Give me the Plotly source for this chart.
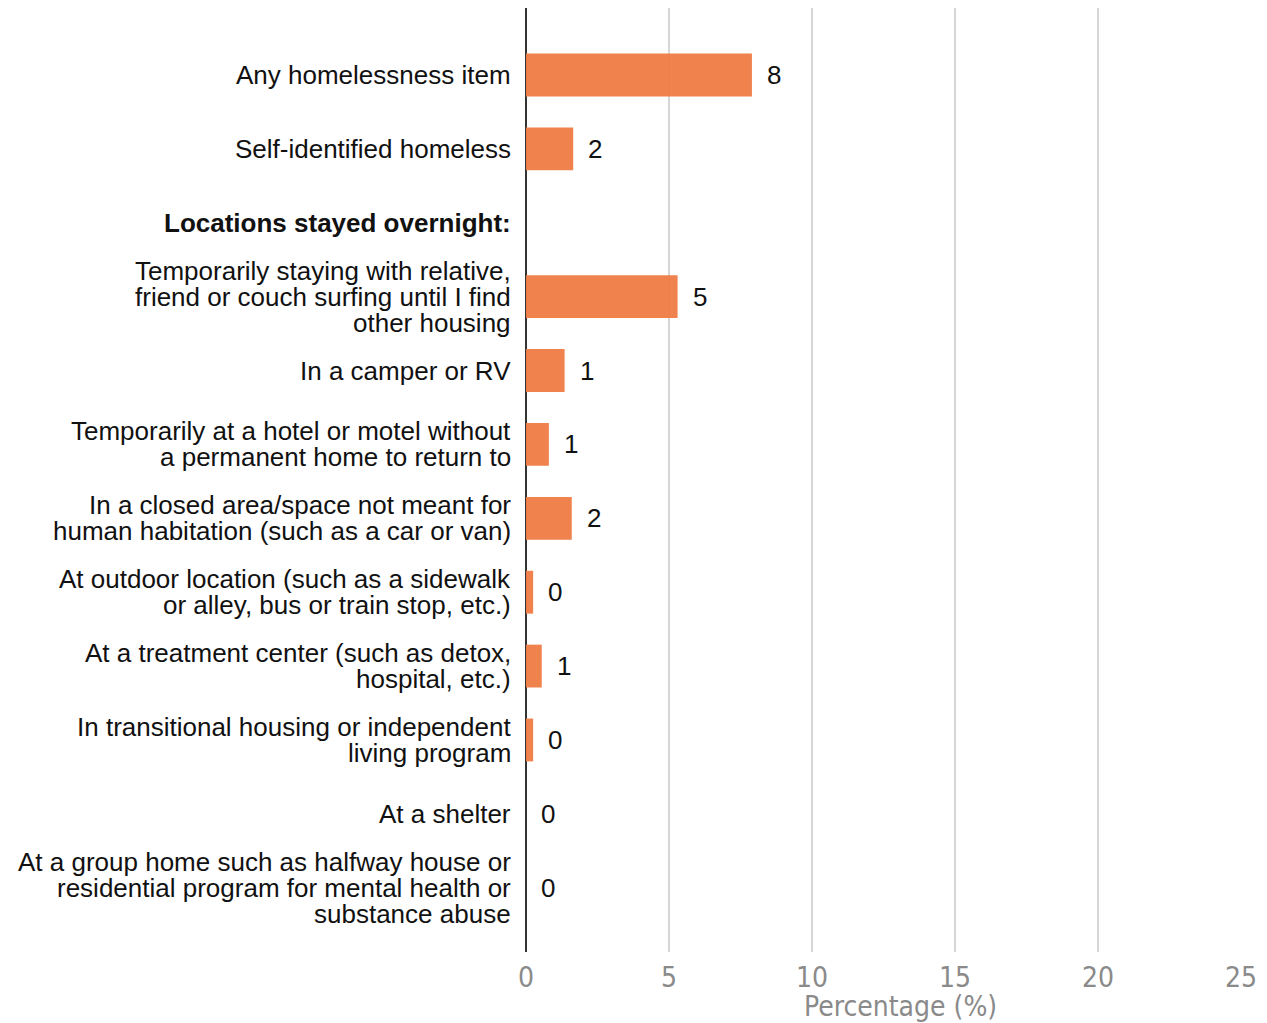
import plotly.graph_objects as go

categories = [
    "Any homelessness item",
    "Self-identified homeless",
    "<b>Locations stayed overnight:</b>",
    "Temporarily staying with relative,<br>friend or couch surfing until I find<br>other housing",
    "In a camper or RV",
    "Temporarily at a hotel or motel without<br>a permanent home to return to",
    "In a closed area/space not meant for<br>human habitation (such as a car or van)",
    "At outdoor location (such as a sidewalk<br>or alley, bus or train stop, etc.)",
    "At a treatment center (such as detox,<br>hospital, etc.)",
    "In transitional housing or independent<br>living program",
    "At a shelter",
    "At a group home such as halfway house or<br>residential program for mental health or<br>substance abuse",
]
values = [7.9, 1.65, None, 5.3, 1.35, 0.8, 1.6, 0.25, 0.55, 0.25, 0, 0]
value_labels = ["8", "2", "", "5", "1", "1", "2", "0", "1", "0", "0", "0"]
x_tickvals = [0, 5, 10, 15, 20, 25]

BAR_COLOR = "#F07C45"
LABEL_FONT = "Liberation Sans, Arial, sans-serif"
NARROW_FONT = "DejaVu Sans Condensed, Liberation Sans Narrow, Arial Narrow, sans-serif"

idx = list(range(len(categories)))
fig = go.Figure()
fig.add_trace(go.Bar(
    x=[v if v is not None else 0 for v in values],
    y=idx,
    orientation="h",
    width=0.58,
    marker=dict(color=BAR_COLOR, line=dict(width=0)),
    opacity=0.95,
    hoverinfo="skip",
))

annotations = []
# category labels, one annotation per line (tight line spacing as in the reference)
for i, cat in enumerate(categories):
    lines = cat.split("<br>")
    n = len(lines)
    for j, line in enumerate(lines):
        annotations.append(dict(
            x=0, xref="paper", y=i, yref="y",
            text=line, showarrow=False,
            xanchor="right", yanchor="middle",
            xshift=-15, yshift=((n - 1) / 2 - j) * 26,
            borderpad=0, borderwidth=0,
            font=dict(family=LABEL_FONT, size=26, color="#111"),
        ))
# value labels
for i, (v, lab) in enumerate(zip(values, value_labels)):
    if v is None or lab == "":
        continue
    annotations.append(dict(
        x=v, xref="x", y=i, yref="y",
        text=lab, showarrow=False,
        xanchor="left", yanchor="middle",
        xshift=13,
        font=dict(family=LABEL_FONT, size=26, color="#111"),
    ))
# axis title
annotations.append(dict(
    x=0.524, xref="paper", y=-0.0752, yref="paper",
    text="Percentage (%)", showarrow=False,
    xanchor="center", yanchor="bottom",
    borderpad=0, borderwidth=0,
    font=dict(family=NARROW_FONT, size=28, color="#8a8a8a"),
))

fig.update_layout(
    width=1259, height=1015,
    margin=dict(l=518, r=26, t=0, b=71),
    plot_bgcolor="white", paper_bgcolor="white",
    showlegend=False,
    annotations=annotations,
    xaxis=dict(
        range=[0, 25], tickvals=x_tickvals,
        showgrid=True, gridcolor="#d6d6d6", gridwidth=2,
        zeroline=True, zerolinecolor="#333", zerolinewidth=2,
        showline=False, ticks="", ticklabelstandoff=6,
        tickfont=dict(family=NARROW_FONT, size=28, color="#8a8a8a"),
        fixedrange=True,
    ),
    yaxis=dict(
        range=[11.87, -0.907],
        showticklabels=False, showgrid=False, zeroline=False,
        showline=False, ticks="",
    ),
)

fig.write_html("out.html")
